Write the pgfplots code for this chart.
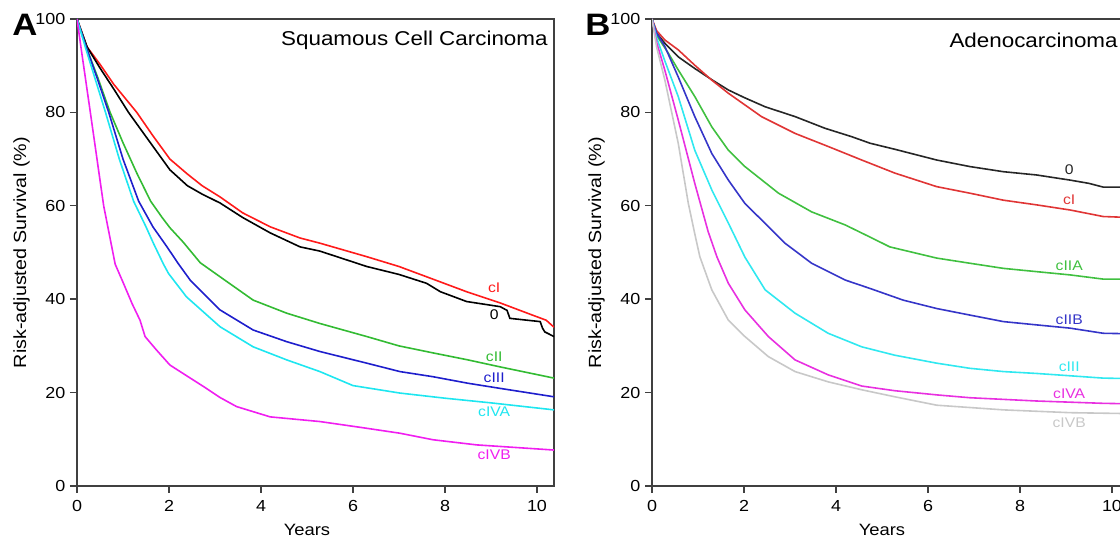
\documentclass[border=0pt]{standalone}
\usepackage{fontspec}
\setmainfont{Liberation Sans}[FakeStretch=1.12]
\usepackage{pgfplots}
\pgfplotsset{compat=1.18}

\definecolor{sred}{HTML}{FF1A1A}
\definecolor{sgreen}{HTML}{33BB33}
\definecolor{sblue}{HTML}{1E1ECC}
\definecolor{scyan}{HTML}{1EE6F0}
\definecolor{smag}{HTML}{F01EF0}
\definecolor{ared}{HTML}{E03535}
\definecolor{agreen}{HTML}{40C040}
\definecolor{ablue}{HTML}{3535C8}
\definecolor{acyan}{HTML}{30E8F0}
\definecolor{amag}{HTML}{E830E0}
\definecolor{agray}{HTML}{C8C8C8}

\tikzset{lab/.style={font=\fontsize{7}{8}\selectfont, inner sep=0pt}}
\pgfplotsset{
  panel/.style={
    scale only axis, width=238.5pt, height=233.5pt,
    xmin=0, xmax=10.37, ymin=0, ymax=100,
    xtick={0,2,...,10}, ytick={0,20,...,100},
    tick align=outside, xtick pos=bottom, ytick pos=left,
    major tick length=3.5pt,
    axis line style={draw=black!75, line width=0.7pt},
    every tick/.style={draw=black!75, line width=0.7pt},
    /pgf/number format/assume math mode=true,
    tick label style={font=\fontsize{8}{9.5}\selectfont},
    yticklabel style={xshift=1.2pt},
    label style={font=\fontsize{8.2}{10}\selectfont},
    ylabel style={font=\fontsize{8.8}{10}\selectfont},
    xlabel={Years}, ylabel={Risk-adjusted Survival (\%)},
    xlabel style={at={(axis description cs:0.482,-0.094)}, anchor=center},
    ylabel style={at={(axis description cs:-0.116,0.5)}, anchor=center},
    every axis plot/.append style={line width=0.8pt, no markers},
  },
}

\begin{document}
\begin{tikzpicture}
\useasboundingbox (0,0) rectangle (560pt,270pt);
\clip (0,0) rectangle (560pt,270pt);

% ---- A: squamous cell carcinoma
\begin{axis}[panel, at={(38.5pt,27pt)}, anchor=south west]
\addplot[sred] coordinates {(0,100) (0.22,94) (0.5,90.3) (0.8,86) (1.3,80) (1.65,75) (2.02,70) (2.4,66.8) (2.72,64.3) (3.11,61.9) (3.6,58.5) (4.2,55.5) (4.85,53.1) (5.28,52) (6.3,49.1) (7.0,47) (7.6,44.8) (8.47,41.6) (9.2,39.2) (9.9,36.6) (10.2,35.5) (10.37,34)};
\addplot[black] coordinates {(0,100) (0.22,94) (0.5,89.5) (0.8,85) (1.12,80) (1.5,74.8) (2.02,67.7) (2.4,64.3) (2.72,62.5) (3.11,60.6) (3.6,57.5) (4.2,54.2) (4.85,51.2) (5.28,50.3) (6.3,47) (7.0,45.3) (7.6,43.4) (7.9,41.6) (8.47,39.5) (9.2,38.4) (9.35,37.6) (9.41,35.9) (10.07,35.2) (10.12,33.8) (10.17,33) (10.37,32)};
\addplot[sgreen] coordinates {(0,100) (0.2,94) (0.45,87.5) (0.72,80) (1.0,73.5) (1.3,67) (1.6,61) (1.85,57.5) (2.02,55.3) (2.31,52.2) (2.68,47.8) (3.11,44.8) (3.83,39.8) (4.56,37) (5.28,34.8) (6.3,32) (7.0,30) (7.74,28.5) (8.5,27) (9.2,25.5) (10.37,23.1)};
\addplot[sblue] coordinates {(0,100) (0.2,94) (0.45,87) (0.69,80) (1.0,70) (1.34,61) (1.65,55.5) (1.95,51.3) (2.21,47.5) (2.46,44.1) (3.11,37.7) (3.83,33.4) (4.56,30.9) (5.28,28.8) (6.3,26.3) (7.02,24.5) (7.74,23.4) (8.5,22) (9.2,20.9) (10.37,19.1)};
\addplot[scyan] coordinates {(0,100) (0.18,94) (0.4,87) (0.62,80) (0.92,70) (1.23,61) (1.5,55.5) (1.66,52) (1.88,47.5) (1.99,45.5) (2.38,40.5) (3.11,34.1) (3.83,29.8) (4.56,27) (5.28,24.5) (6.0,21.5) (7.02,19.9) (8.0,18.8) (9.0,17.8) (10.37,16.3)};
\addplot[smag] coordinates {(0,100) (0.1,93) (0.29,80) (0.5,65.5) (0.58,60) (0.72,53) (0.83,47.5) (1.01,43.4) (1.2,39) (1.37,35.5) (1.48,32) (1.73,29.1) (2.02,25.9) (2.4,23.5) (2.75,21.3) (3.1,19) (3.47,17) (4.2,14.8) (5.28,13.8) (6.2,12.5) (7.02,11.3) (7.74,9.9) (8.69,8.8) (10.37,7.7)};
\node[lab, text=sred] at (axis cs:9.07,42.4) {cI};
\node[lab, text=black] at (axis cs:9.07,36.6) {0};
\node[lab, text=sgreen] at (axis cs:9.07,27.7) {cII};
\node[lab, text=sblue] at (axis cs:9.07,23.1) {cIII};
\node[lab, text=scyan] at (axis cs:9.07,15.9) {cIVA};
\node[lab, text=smag] at (axis cs:9.07,6.6) {cIVB};
\node[anchor=east, inner sep=0pt, font=\fontsize{10}{12}\selectfont] at (rel axis cs:1,1) [xshift=-3pt, yshift=-10.5pt] {Squamous Cell Carcinoma};
\end{axis}

% ---- B: adenocarcinoma
\begin{axis}[panel, at={(326pt,27pt)}, anchor=south west]
\addplot[black!85] coordinates {(0,100) (0.1,97) (0.28,94.8) (0.57,91.9) (0.93,89.4) (1.3,87) (1.66,84.8) (2.0,83.2) (2.46,81.2) (3.11,79.1) (3.76,76.6) (4.34,74.8) (4.74,73.4) (5.28,72.1) (6.19,69.8) (6.91,68.4) (7.64,67.3) (8.36,66.6) (9.09,65.5) (9.5,64.8) (9.81,64) (10.37,64)};
\addplot[ared] coordinates {(0,100) (0.1,97.5) (0.28,95.5) (0.57,93.4) (0.93,90.1) (1.3,86.9) (1.66,84.1) (2.38,79.1) (3.11,75.5) (3.83,72.7) (4.56,69.8) (5.28,67) (6.19,64.1) (6.91,62.7) (7.64,61.2) (8.36,60.2) (9.09,59.1) (9.81,57.7) (10.37,57.5)};
\addplot[agreen] coordinates {(0,100) (0.1,96.5) (0.2,95) (0.36,92.6) (0.57,89.1) (0.93,83.4) (1.3,76.9) (1.66,71.9) (2.02,68.4) (2.75,62.7) (3.47,58.7) (4.2,55.9) (4.74,53.3) (5.17,51.2) (6.19,48.8) (6.91,47.7) (7.64,46.6) (8.36,45.9) (9.09,45.2) (9.81,44.3) (10.37,44.3)};
\addplot[ablue] coordinates {(0,100) (0.1,97) (0.28,94.1) (0.57,87.6) (0.93,79.1) (1.3,71.2) (1.66,65.5) (2.02,60.5) (2.38,57) (2.89,52) (3.47,47.7) (4.2,44.1) (4.74,42.3) (5.46,39.8) (6.19,38) (6.91,36.6) (7.64,35.2) (8.36,34.5) (9.09,33.8) (9.81,32.7) (10.37,32.6)};
\addplot[acyan] coordinates {(0,100) (0.1,96) (0.28,91) (0.57,83.4) (0.93,71.9) (1.3,63.4) (1.66,56.3) (2.02,49) (2.46,42) (3.11,37) (3.83,32.7) (4.56,29.8) (5.28,28) (6.19,26.3) (6.91,25.2) (7.64,24.5) (8.36,24.1) (9.09,23.6) (9.81,23.1) (10.37,23)};
\addplot[amag] coordinates {(0,100) (0.1,95) (0.28,89) (0.57,78.4) (0.93,64.8) (1.22,54.5) (1.41,49.1) (1.66,43.4) (2.02,37.7) (2.53,32) (3.11,27) (3.83,23.8) (4.56,21.4) (5.28,20.4) (6.2,19.5) (6.91,18.9) (8.36,18.2) (9.81,17.7) (10.37,17.6)};
\addplot[agray] coordinates {(0,100) (0.1,94) (0.28,86.9) (0.57,73.4) (0.79,60.5) (0.93,54) (1.04,49.1) (1.3,42) (1.66,35.5) (2.02,32) (2.53,27.7) (3.11,24.5) (3.83,22.3) (4.56,20.6) (5.28,19.1) (6.19,17.3) (7.64,16.3) (9.09,15.7) (10.37,15.5)};
\node[lab, text=black!85] at (axis cs:9.07,67.7) {0};
\node[lab, text=ared] at (axis cs:9.07,61.4) {cI};
\node[lab, text=agreen] at (axis cs:9.07,47.2) {cIIA};
\node[lab, text=ablue] at (axis cs:9.07,35.5) {cIIB};
\node[lab, text=acyan] at (axis cs:9.07,25.5) {cIII};
\node[lab, text=amag] at (axis cs:9.07,19.7) {cIVA};
\node[lab, text=agray] at (axis cs:9.07,13.6) {cIVB};
\node[anchor=east, inner sep=0pt, font=\fontsize{10}{12}\selectfont] at (rel axis cs:1,1) [xshift=-5.5pt, yshift=-10.5pt] {Adenocarcinoma};
\end{axis}

\node[font=\fontsize{15.5}{17}\selectfont\bfseries, inner sep=0pt] at (12.5pt,257.5pt) {A};
\node[font=\fontsize{15.5}{17}\selectfont\bfseries, inner sep=0pt] at (299pt,257.5pt) {B};
\end{tikzpicture}
\end{document}
